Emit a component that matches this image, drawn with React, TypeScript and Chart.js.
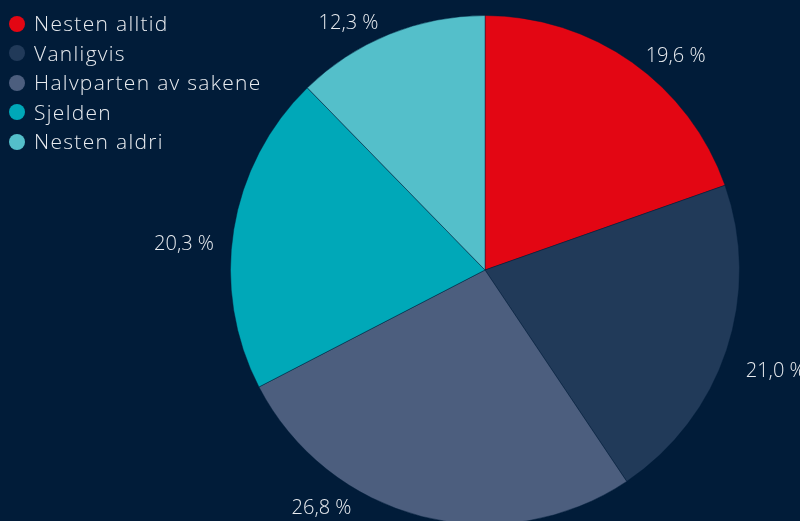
import React, { useEffect, useRef } from "react";
import { Chart, registerables } from "chart.js";

Chart.register(...registerables);

const categories = ["Nesten alltid", "Vanligvis", "Halvparten av sakene", "Sjelden", "Nesten aldri"];
const values = [19.6, 21.0, 26.8, 20.3, 12.3];
const colors = ["#e30613", "#213a59", "#4c5e7e", "#00a8b8", "#54bfca"];

const BG = "#011c39";
const TEXT = "#e8ebef";
const FONT = "'Open Sans', 'DejaVu Sans', sans-serif";

const fmt = (v: number) => v.toFixed(1).replace(".", ",") + " %";

const labelPlugin = {
  id: "outerLabels",
  afterDraw(chart: any) {
    const ctx = chart.ctx;
    const meta = chart.getDatasetMeta(0);
    ctx.save();
    ctx.font = `300 20px ${FONT}`;
    ctx.fillStyle = TEXT;
    ctx.textBaseline = "middle";
    meta.data.forEach((arc: any, i: number) => {
      const { startAngle, endAngle, x, y, outerRadius } = arc.getProps(
        ["startAngle", "endAngle", "x", "y", "outerRadius"],
        true
      );
      const mid = (startAngle + endAngle) / 2;
      const R = outerRadius + 15;
      const c = Math.cos(mid);
      const right = c >= 0;
      let ay = y + Math.sin(mid) * R;
      const off = 18 * c * c;
      ay = Math.max(14, Math.min(508 - off, ay));
      const dy = ay - y;
      const dx = (right ? 1 : -1) * (Math.sqrt(Math.max(R * R - dy * dy, 0)) + 5);
      ctx.textAlign = right ? "left" : "right";
      ctx.fillText(fmt(values[i]), x + dx, ay + off);
    });
    ctx.restore();
  },
};

export default function App() {
  const ref = useRef<HTMLCanvasElement | null>(null);
  useEffect(() => {
    if (!ref.current) return;
    const chart = new Chart(ref.current, {
      type: "pie",
      data: {
        labels: categories,
        datasets: [
          {
            data: values,
            backgroundColor: colors,
            borderColor: "rgba(1,28,57,0.45)",
            borderWidth: 1,
          },
        ],
      },
      options: {
        responsive: true,
        maintainAspectRatio: false,
        animation: false,
        layout: { padding: { top: 15, bottom: 5, left: 230, right: 60 } },
        plugins: {
          legend: { display: false },
          tooltip: { enabled: false },
        },
      },
      plugins: [labelPlugin],
    });
    return () => chart.destroy();
  }, []);

  return (
    <div
      style={{
        position: "absolute",
        left: 0,
        top: 0,
        width: 800,
        height: 521,
        overflow: "hidden",
        background: BG,
      }}
    >
      <div style={{ position: "absolute", left: 0, top: 0, width: 800, height: 530 }}>
        <canvas ref={ref} />
      </div>
      <div
        style={{
          position: "absolute",
          left: 9,
          top: 9,
          fontFamily: FONT,
          fontWeight: 300,
          fontSize: 21,
          letterSpacing: "1.3px",
          color: TEXT,
        }}
      >
        {categories.map((c, i) => (
          <div key={c} style={{ display: "flex", alignItems: "center", height: 29.5 }}>
            <span
              style={{
                display: "inline-block",
                width: 16,
                height: 16,
                borderRadius: "50%",
                background: colors[i],
                marginRight: 9,
                flexShrink: 0,
              }}
            />
            <span style={{ lineHeight: "29.5px" }}>{c}</span>
          </div>
        ))}
      </div>
    </div>
  );
}
